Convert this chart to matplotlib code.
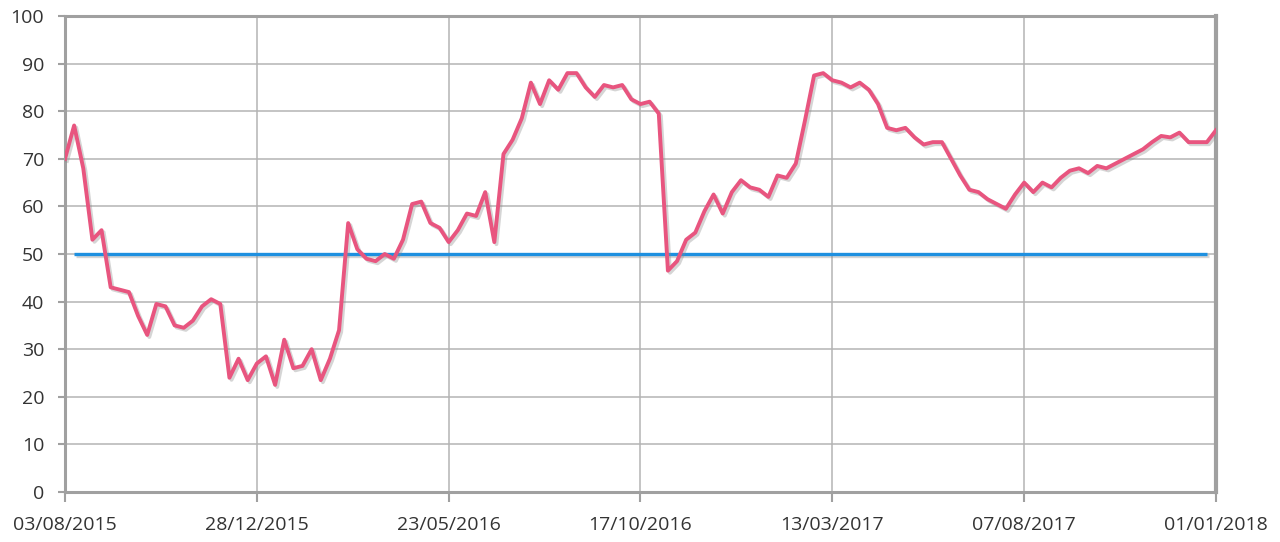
import pandas as pd
import numpy as np
import matplotlib
matplotlib.use('Agg')
import matplotlib.pyplot as plt
import matplotlib.dates as mdates
import matplotlib.patheffects as pe

# weekly values, starting 03/08/2015
start = '2015-08-03'
values = [70, 77, 68, 53, 55, 43, 42.5, 42, 37, 33,
          39.5, 39, 35, 34.5, 36, 39, 40.5, 39.5, 24, 28,
          23.5, 27, 28.5, 22.5, 32, 26, 26.5, 30, 23.5, 28,
          34, 56.5, 51, 49, 48.5, 50, 49, 53, 60.5, 61,
          56.5, 55.5, 52.5, 55, 58.5, 58, 63, 52.5, 71, 74,
          78.5, 86, 81.5, 86.5, 84.5, 88, 88, 85, 83, 85.5,
          85, 85.5, 82.5, 81.5, 82, 79.5, 46.5, 48.5, 53, 54.5,
          59, 62.5, 58.5, 63, 65.5, 64, 63.5, 62, 66.5, 66,
          69, 78, 87.5, 88, 86.5, 86, 85, 86, 84.5, 81.5,
          76.5, 76, 76.5, 74.5, 73, 73.5, 73.5, 70, 66.5, 63.5,
          63, 61.5, 60.5, 59.5, 62.5, 65, 63, 65, 64, 66,
          67.5, 68, 67, 68.5, 68, 69, 70, 71, 72, 73.5,
          74.8, 74.5, 75.5, 73.5, 73.5, 73.5, 76]
threshold = 50
threshold_weeks = (1, 125)   # first / last week of the 50 line

dates = pd.date_range(start, periods=len(values), freq='7D')
thr_dates = dates[threshold_weeks[0]:threshold_weeks[1] + 1]
thr_values = [threshold] * len(thr_dates)
tick_dates = dates[::21]

fig = plt.figure(figsize=(12.8, 5.42), dpi=100)
ax = fig.add_axes([65/1280, 1 - 492/542, (1216-65)/1280, (492-16)/542])

shadow = [pe.SimpleLineShadow(offset=(1.5, -1.5), shadow_color='#888888', alpha=0.35), pe.Normal()]
ax.plot(thr_dates, thr_values, color='#1e90e0', lw=2.4, solid_capstyle='butt',
        path_effects=shadow, zorder=3)
ax.plot(dates, values, color='#e8557f', lw=2.8, solid_joinstyle='round',
        path_effects=shadow, zorder=4)

ax.set_xlim(dates[0], dates[-1])
ax.set_ylim(0, 100)
ax.set_yticks(range(0, 101, 10))
ax.set_xticks(tick_dates)
ax.xaxis.set_major_formatter(mdates.DateFormatter('%d/%m/%Y'))

ax.grid(True, color='#b4b4b4', lw=1.1)
ax.set_axisbelow(True)
for s in ax.spines.values():
    s.set_color('#a0a0a0')
    s.set_linewidth(2.2)
ax.spines['right'].set_linewidth(3)

ax.tick_params(axis='both', colors='#a0a0a0', labelcolor='#333333', labelsize=14, width=1.5)
ax.tick_params(axis='y', length=5, pad=10)
ax.tick_params(axis='x', length=7, pad=10)
for lab in ax.get_xticklabels() + ax.get_yticklabels():
    lab.set_fontfamily(['Open Sans', 'DejaVu Sans'])

fig.savefig('out.png', dpi=100)
